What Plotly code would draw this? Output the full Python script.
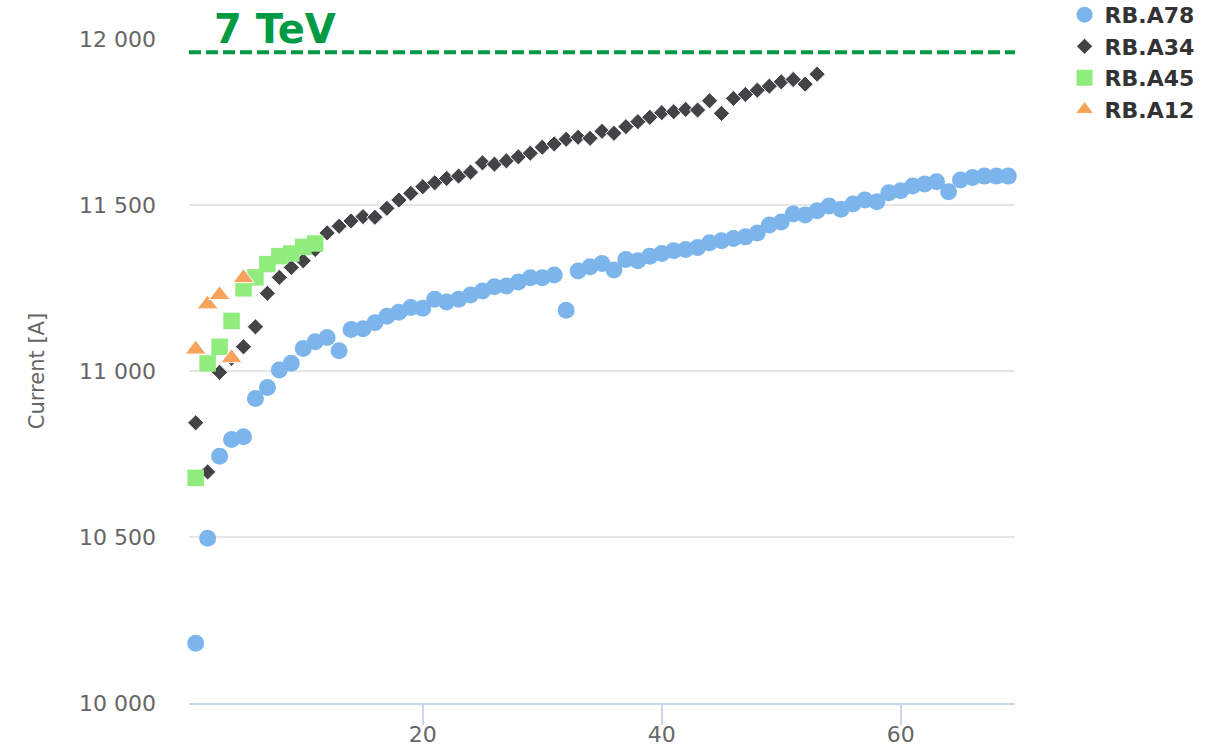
import plotly.graph_objects as go

# Quench training: magnet current reached at each quench, per sector
a78_current = [10180, 10496, 10743, 10794, 10802, 10917, 10950, 11003, 11023, 11068,
               11088, 11101, 11061, 11125, 11127, 11145, 11165, 11177, 11191, 11189,
               11216, 11208, 11216, 11229, 11241, 11254, 11256, 11268, 11281, 11281,
               11289, 11183, 11301, 11314, 11324, 11304, 11336, 11332, 11346, 11354,
               11362, 11366, 11372, 11386, 11392, 11399, 11404, 11416, 11440, 11449,
               11473, 11470, 11483, 11497, 11487, 11503, 11515, 11510, 11537, 11543,
               11557, 11563, 11570, 11540, 11575, 11583, 11587, 11587, 11587]
a34_current = [10844, 10696, 10996, 11038, 11073, 11133, 11234, 11282, 11312, 11332,
               11366, 11416, 11436, 11452, 11465, 11463, 11490, 11515, 11535, 11555,
               11567, 11580, 11587, 11599, 11627, 11623, 11633, 11645, 11656, 11674,
               11684, 11698, 11704, 11701, 11722, 11716, 11736, 11751, 11764, 11778,
               11781, 11788, 11786, 11814, 11776, 11821, 11833, 11846, 11858, 11871,
               11878, 11864, 11894]
a45_current = [10678, 11023, 11073, 11151, 11249, 11282, 11322, 11346, 11354, 11374, 11384]
a12_current = [11065, 11201, 11229, 11039, 11280]

series_names = ["RB.A78", "RB.A34", "RB.A45", "RB.A12"]
target_current = 11960
target_label = "7 TeV"
y_ticks = [10000, 10500, 11000, 11500, 12000]
y_tick_text = ["10 000", "10 500", "11 000", "11 500", "12 000"]
x_ticks = [20, 40, 60]

FONT = "DejaVu Sans"
GREEN = "#009a44"

series = [
    (series_names[0], a78_current, "#7cb5ec", "circle", 17, 0),
    (series_names[1], a34_current, "#434348", "diamond", 12.5, 1),
    (series_names[2], a45_current, "#90ed7d", "square", 16.5, 0),
    (series_names[3], a12_current, "#f7a35c", "triangle-up", 18.5, 1),
]

fig = go.Figure()
for name, values, color, symbol, size, lw in series:
    fig.add_trace(go.Scatter(
        x=list(range(1, len(values) + 1)),
        y=values,
        mode="markers",
        name=name,
        cliponaxis=False,
        marker=dict(color=color, symbol=symbol, size=size,
                    line=dict(color="white", width=lw)),
    ))

# nominal 7 TeV current level
fig.add_shape(type="line", xref="paper", x0=0, x1=1, yref="y",
              y0=target_current, y1=target_current,
              line=dict(color=GREEN, width=4, dash="12px,5px"))
fig.add_annotation(text="<b>" + target_label + "</b>", xref="paper", yref="paper",
                   x=0.028, y=1.0, xanchor="left", yanchor="bottom",
                   yshift=-15, showarrow=False,
                   font=dict(family=FONT, size=40, color=GREEN))

fig.update_layout(
    width=1225, height=748,
    margin=dict(l=189, r=210, t=39, b=45, autoexpand=False),
    paper_bgcolor="white", plot_bgcolor="white",
    font=dict(family=FONT, color="#666666"),
    showlegend=True,
    legend=dict(x=1.06, y=1.068, xanchor="left", yanchor="top",
                font=dict(family=FONT, size=22, color="#333333", weight="bold"),
                bgcolor="rgba(0,0,0,0)", tracegroupgap=0),
    xaxis=dict(range=[0.44, 69.56], tickvals=x_ticks, showgrid=False,
               zeroline=False, showline=True, linecolor="#ccd6eb", linewidth=2,
               ticks="outside", ticklen=20, tickwidth=2, tickcolor="#ccd6eb",
               automargin=False, ticklabelstandoff=-9,
               tickfont=dict(family=FONT, size=22, color="#666666")),
    yaxis=dict(range=[10000, 12000], tickvals=y_ticks, ticktext=y_tick_text,
               showgrid=True, gridcolor="#e6e6e6", gridwidth=2, zeroline=False,
               ticks="", ticklabelstandoff=32, automargin=False,
               tickfont=dict(family=FONT, size=22, color="#666666"),
               title=dict(text="Current [A]", standoff=28,
                          font=dict(family=FONT, size=21, color="#666666"))),
)

fig.write_html("out.html")
